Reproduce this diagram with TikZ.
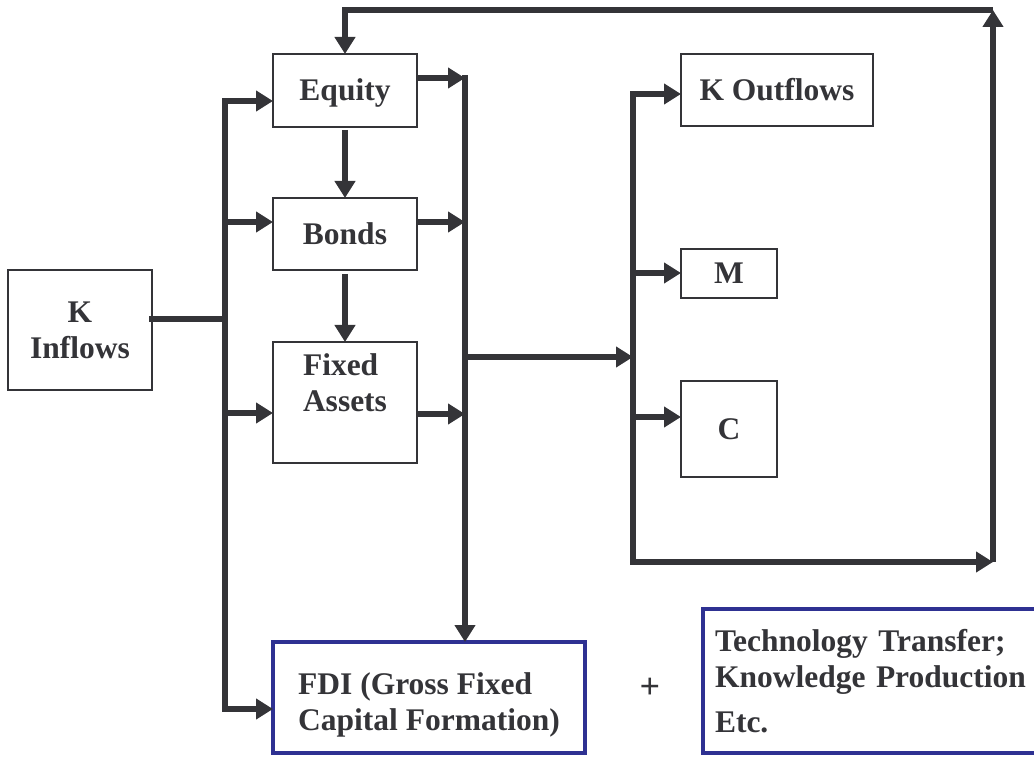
\documentclass[tikz,border=0pt]{standalone}
\usepackage{fontspec}
\setmainfont{Liberation Serif}
\usetikzlibrary{arrows.meta}
\definecolor{darkline}{RGB}{52,52,56}
\definecolor{fdiblue}{RGB}{46,49,146}
\tikzset{
  box/.style = {draw=darkline, line width=1.8pt, text=darkline,
                font=\fontsize{31.5}{36}\selectfont\bfseries,
                inner sep=0pt, outer sep=0pt, align=center},
  txt/.style = {text=darkline, font=\fontsize{31.5}{36}\selectfont\bfseries,
                inner sep=0pt, align=left},
  bluebox/.style = {box, draw=fdiblue, line width=4pt, align=left},
  bus/.style = {draw=darkline, line width=5.5pt, line cap=rect},
  flow/.style = {draw=darkline, line width=5.5pt,
                 -{Triangle[width=20pt,length=17pt]}}
}

\begin{document}
\begin{tikzpicture}[x=1pt, y=-1pt]
	\useasboundingbox (0,0) rectangle (1034,759);
	\def \busL{225}
	\def \busM{465}
	\def \busR{633}

	% Boxes
	\node[box, minimum width=144, minimum height=120] (inflow) at (80,330) {K\\Inflows};
	\node[box, minimum width=144, minimum height=73, text depth=2pt] (equity) at (345,90.5) {Equity};
	\node[box, minimum width=144, minimum height=72] (bonds) at (345,234) {Bonds};
	\node[box, minimum width=144, minimum height=121] (fixed) at (345,402.5) {};
	\node[txt] (fixedtext) at (345,383) {Fixed\\Assets};
	\node[box, minimum width=192, minimum height=72] (kout) at (777,90) {K Outflows};
	\node[box, minimum width=96, minimum height=49] (mimp) at (729,273.5) {M};
	\node[box, minimum width=96, minimum height=96] (cons) at (729,429) {C};
	\node[bluebox, minimum width=312, minimum height=111] (fdi) at (429,697.5) {};
	\node[txt] (fditext) at (429,705) {FDI (Gross Fixed\\Capital Formation)};
	\node[txt, font=\fontsize{36}{36}\selectfont\bfseries] (plus) at (650,688) {+};
	\node[bluebox, minimum width=345, minimum height=144, text width=321,
		inner xsep=12pt] (tech) at (875.5,681)
		{Technology Transfer;\\Knowledge Production\\[9pt]Etc.};

	% Bus points
	\coordinate (inL) at (\busL,319);
	\coordinate (eqL) at (\busL,101);
	\coordinate (boL) at (\busL,222);
	\coordinate (faL) at (\busL,413);
	\coordinate (fdiL) at (\busL,709);
	\coordinate (eqM) at (\busM,78);
	\coordinate (boM) at (\busM,222);
	\coordinate (faM) at (\busM,414);
	\coordinate (outM) at (\busM,357);
	\coordinate (inR) at (\busR,357);
	\coordinate (koR) at (\busR,94);
	\coordinate (mR) at (\busR,273);
	\coordinate (cR) at (\busR,417);
	\coordinate (loopBL) at (\busR,562);
	\coordinate (loopBR) at (993,562);
	\coordinate (loopTR) at (993,10);
	\coordinate (loopTL) at (345,10);

	% Inflows split
	\draw[bus] (inflow.east |- inL) -- (inL);
	\draw[bus] (eqL) -- (fdiL);
	\draw[flow] (eqL) -- (equity.west |- eqL);
	\draw[flow] (boL) -- (bonds.west |- boL);
	\draw[flow] (faL) -- (fixed.west |- faL);
	\draw[flow] (fdiL) -- (fdi.west |- fdiL);

	% Down the assets
	\draw[flow] ([yshift=-3pt]equity.south) -- (bonds.north);
	\draw[flow] ([yshift=-4pt]bonds.south) -- (fixed.north);

	% Middle bus
	\draw[flow] (equity.east |- eqM) -- (eqM);
	\draw[flow] (bonds.east |- boM) -- (boM);
	\draw[flow] (fixed.east |- faM) -- (faM);
	\draw[bus] (eqM) -- (outM);
	\draw[flow] (outM) -- (eqM |- fdi.north);
	\draw[flow] (outM) -- (inR);

	% Right bus
	\draw[bus] (koR) -- (loopBL);
	\draw[flow] (koR) -- (kout.west |- koR);
	\draw[flow] (mR) -- (mimp.west |- mR);
	\draw[flow] (cR) -- (cons.west |- cR);

	% Feedback loop
	\draw[flow] (loopBL) -- (loopBR);
	\draw[flow] (loopBR) -- (loopTR);
	\draw[flow] (loopTR) -- (loopTL) -- (equity.north);
\end{tikzpicture}
\end{document}
